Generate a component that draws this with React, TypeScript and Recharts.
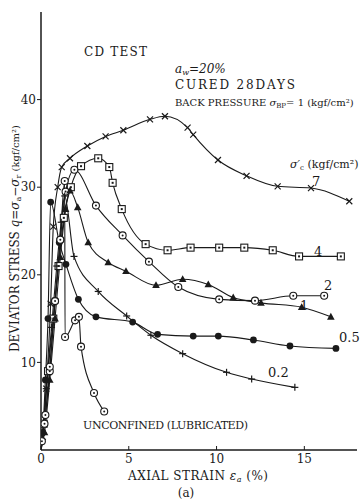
import React from 'react';
import { LineChart, Line, XAxis, YAxis } from 'recharts';

// axial strain (%) / deviator stress (kgf/cm2) per confining pressure
const strain7 = [0, 0.1, 0.3, 0.55, 0.7, 0.95, 1.18, 1.65, 2.64, 3.68, 4.69, 6.21, 7.06, 8.35, 8.67, 10.08, 11.71, 13.48, 15.38, 17.56];
const stress7 = [0, 1.5, 7, 16.7, 25.5, 30, 32.3, 33.3, 34.7, 35.8, 36.5, 37.75, 38.1, 36.8, 36.0, 33.1, 31.3, 30.1, 29.9, 28.4];

const strain4 = [0, 0.15, 0.4, 0.7, 1.0, 1.3, 1.7, 2.28, 3.26, 3.89, 4.08, 4.6, 5.96, 7.21, 8.52, 10.15, 11.58, 13.2, 14.7, 17.08];
const stress4 = [0, 3, 9, 15, 21, 26.5, 30, 32.4, 33.3, 32.3, 30.5, 27.5, 23.5, 22.8, 23.1, 23.1, 23.1, 22.8, 22.1, 22.1];

const strain2 = [0, 0.2, 0.5, 0.8, 1.1, 1.4, 1.9, 3.13, 4.65, 6.15, 7.82, 10.15, 12.19, 14.37, 16.13];
const stress2 = [0, 3, 9, 17, 24, 29.5, 32, 27.9, 24.5, 21.5, 18.6, 17.2, 17.05, 17.6, 17.6];

const strain1 = [0, 0.2, 0.5, 0.8, 1.1, 1.4, 1.65, 2.09, 2.69, 3.83, 4.84, 6.55, 8.07, 9.53, 10.95, 12.53, 14.85, 16.51];
const stress1 = [0, 2, 8, 15, 22, 27.5, 29.6, 27.7, 23.7, 21.4, 20.4, 18.8, 19.5, 18.9, 17.4, 16.8, 16.3, 15.2];

const strain05 = [0, 0.1, 0.25, 0.4, 0.55, 1.04, 1.42, 2.13, 3.13, 5.22, 6.64, 8.67, 10.1, 12.1, 14.18, 16.8];
const stress05 = [0, 2, 8, 15, 28.3, 23.7, 21.2, 17.2, 15.2, 14.6, 13.2, 13.0, 13.0, 12.56, 11.87, 11.6];

const strain02 = [0, 0.1, 0.3, 0.6, 0.9, 1.15, 1.35, 1.88, 3.26, 4.88, 6.26, 8.07, 10.57, 12.0, 14.46];
const stress02 = [0, 2, 7, 14, 21, 26, 29, 22.1, 18.1, 15.3, 13.1, 11.0, 8.87, 8.1, 7.15];

const strainU = [0, 0.05, 0.25, 0.5, 0.8, 1.1, 1.35, 1.37, 1.94, 2.16, 2.28, 3.02, 3.6];
const stressU = [0, 1, 4, 9.5, 17, 24, 30.7, 12.9, 14.8, 15.2, 11.8, 6.5, 4.4];

const xTicks = [0, 5, 10, 15];
const yTicks = [10, 20, 30, 40];

const zip = (xs: number[], ys: number[]) => xs.map((x, i) => ({ x, q: ys[i] }));

const INK = '#1a1a1a';
const FONT = '"DejaVu Serif", "Liberation Serif", serif';

type Kind = 'cross' | 'square' | 'odot' | 'tri' | 'disc' | 'plus';

function marker(kind: Kind) {
    return (p: any) => {
        const { cx, cy, index } = p;
        const k = `${kind}-${index}`;
        if (cx == null || cy == null || index === 0) return <g key={k} />;
        switch (kind) {
            case 'cross':
                return (
                    <g key={k} stroke={INK} strokeWidth={1.2}>
                        <line x1={cx - 3} y1={cy - 3} x2={cx + 3} y2={cy + 3} />
                        <line x1={cx - 3} y1={cy + 3} x2={cx + 3} y2={cy - 3} />
                    </g>
                );
            case 'plus':
                return (
                    <g key={k} stroke={INK} strokeWidth={1.2}>
                        <line x1={cx - 3.5} y1={cy} x2={cx + 3.5} y2={cy} />
                        <line x1={cx} y1={cy - 3.5} x2={cx} y2={cy + 3.5} />
                    </g>
                );
            case 'square':
                return (
                    <g key={k}>
                        <rect x={cx - 3.5} y={cy - 3.5} width={7} height={7} fill="#fff" stroke={INK} strokeWidth={1.1} />
                        <rect x={cx - 1} y={cy - 1} width={2} height={2} fill={INK} />
                    </g>
                );
            case 'odot':
                return (
                    <g key={k}>
                        <circle cx={cx} cy={cy} r={3.5} fill="#fff" stroke={INK} strokeWidth={1.1} />
                        <circle cx={cx} cy={cy} r={1} fill={INK} />
                    </g>
                );
            case 'tri':
                return (
                    <polygon key={k} points={`${cx},${cy - 4} ${cx - 3.8},${cy + 2.8} ${cx + 3.8},${cy + 2.8}`} fill={INK} />
                );
            default:
                return <circle key={k} cx={cx} cy={cy} r={3.4} fill={INK} />;
        }
    };
}

const series: { name: string; data: { x: number; q: number }[]; kind: Kind }[] = [
    { name: '7', data: zip(strain7, stress7), kind: 'cross' },
    { name: '4', data: zip(strain4, stress4), kind: 'square' },
    { name: '2', data: zip(strain2, stress2), kind: 'odot' },
    { name: '1', data: zip(strain1, stress1), kind: 'tri' },
    { name: '0.5', data: zip(strain05, stress05), kind: 'disc' },
    { name: '0.2', data: zip(strain02, stress02), kind: 'plus' },
    { name: 'unconfined', data: zip(strainU, stressU), kind: 'odot' },
];

const txt = { fontFamily: FONT, fill: INK } as const;

export default function App() {
    return (
        <div style={{ position: 'absolute', left: 0, top: 0, width: 361, height: 502, background: '#fff' }}>
            <LineChart width={361} height={502} margin={{ top: 12, right: 4, bottom: 0, left: 0 }}>
                <XAxis
                    dataKey="x"
                    type="number"
                    domain={[0, 18]}
                    ticks={xTicks}
                    height={52}
                    allowDataOverflow
                    axisLine={{ stroke: INK, strokeWidth: 1.5 }}
                    tickLine={{ stroke: INK }}
                    tickSize={-4}
                    tickMargin={8}
                    tick={{ fill: INK, fontSize: 12, fontFamily: FONT }}
                />
                <XAxis
                    xAxisId="top"
                    orientation="top"
                    dataKey="x"
                    type="number"
                    domain={[0, 18]}
                    ticks={[5, 10, 15]}
                    height={0}
                    mirror
                    tick={false}
                    tickSize={4}
                    axisLine={{ stroke: INK, strokeWidth: 1.3 }}
                    tickLine={{ stroke: INK }}
                />
                <YAxis
                    dataKey="q"
                    type="number"
                    domain={[0, 50]}
                    ticks={yTicks}
                    width={41}
                    axisLine={{ stroke: INK, strokeWidth: 1.5 }}
                    tickLine={{ stroke: INK }}
                    tickSize={4}
                    tickMargin={1}
                    tick={{ fill: INK, fontSize: 12, fontFamily: FONT }}
                />
                <YAxis
                    yAxisId="right"
                    orientation="right"
                    dataKey="q"
                    type="number"
                    domain={[0, 50]}
                    ticks={yTicks}
                    width={0}
                    mirror
                    tick={false}
                    tickSize={4}
                    axisLine={{ stroke: INK, strokeWidth: 1.3 }}
                    tickLine={{ stroke: INK }}
                />
                {series.map((s) => (
                    <Line
                        key={s.name}
                        data={s.data}
                        dataKey="q"
                        type="monotone"
                        stroke={INK}
                        strokeWidth={1.1}
                        dot={marker(s.kind)}
                        activeDot={false}
                        isAnimationActive={false}
                    />
                ))}
            </LineChart>
            <svg width={361} height={502} style={{ position: 'absolute', left: 0, top: 0, pointerEvents: 'none' }}>
                <text x={84} y={56} fontSize={12} {...txt} textLength={63}>CD TEST</text>
                <text x={175} y={73} fontSize={12} {...txt} fontStyle="italic">
                    a<tspan fontSize={8} dy={2}>w</tspan><tspan dy={-2}>=20%</tspan>
                </text>
                <text x={175} y={89} fontSize={12} {...txt} textLength={120}>CURED 28DAYS</text>
                <text x={175} y={106} fontSize={10} {...txt}>
                    BACK PRESSURE <tspan fontStyle="italic">σ</tspan><tspan fontSize={7} dy={2}>BP</tspan><tspan dy={-2}>= 1 (kgf/cm²)</tspan>
                </text>
                <text x={290} y={168} fontSize={11} {...txt}>
                    <tspan fontStyle="italic">σ′</tspan><tspan fontSize={7} dy={2}>c</tspan><tspan dy={-2}> (kgf/cm²)</tspan>
                </text>
                <text x={312} y={186} fontSize={13} {...txt}>7</text>
                <text x={314} y={256} fontSize={13} {...txt}>4</text>
                <text x={324} y={290} fontSize={13} {...txt}>2</text>
                <text x={300} y={310} fontSize={13} {...txt}>1</text>
                <text x={339} y={342} fontSize={13} {...txt}>0.5</text>
                <text x={268} y={377} fontSize={13} {...txt}>0.2</text>
                <text x={83} y={429} fontSize={11} {...txt} textLength={165}>UNCONFINED (LUBRICATED)</text>
                <text x={128} y={480} fontSize={12} {...txt} textLength={140}>
                    AXIAL STRAIN <tspan fontStyle="italic">ε</tspan><tspan fontSize={8} dy={2} fontStyle="italic">a</tspan><tspan dy={-2}> (%)</tspan>
                </text>
                <text x={186} y={497} fontSize={12} {...txt} textAnchor="middle">(a)</text>
                <text transform="translate(19, 352) rotate(-90)" fontSize={12} {...txt}>
                    DEVIATOR STRESS <tspan fontStyle="italic">q</tspan>=<tspan fontStyle="italic">σ</tspan><tspan fontSize={8} dy={2}>a</tspan><tspan dy={-2}>−</tspan><tspan fontStyle="italic">σ</tspan><tspan fontSize={8} dy={2}>r</tspan><tspan dy={-2} fontSize={10}>  (kgf/cm²)</tspan>
                </text>
            </svg>
        </div>
    );
}
